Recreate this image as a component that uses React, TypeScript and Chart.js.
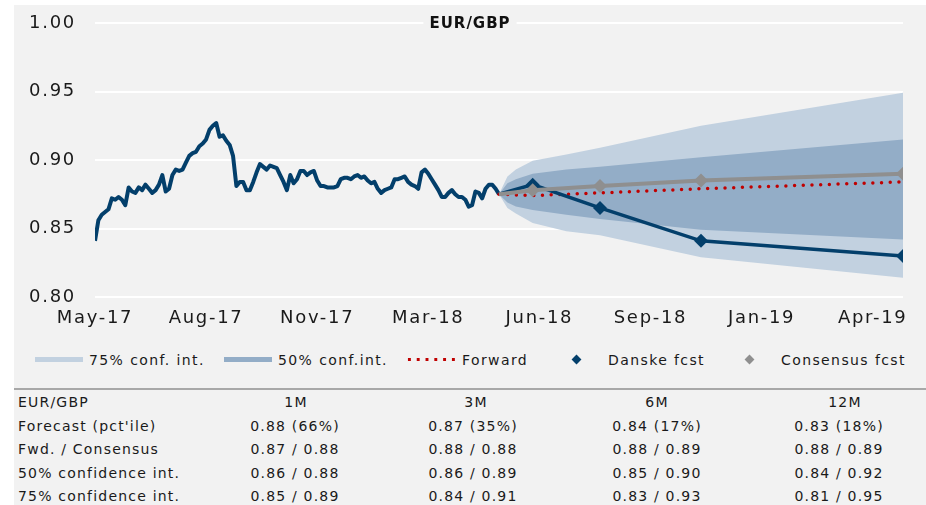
import React, { useEffect, useRef } from 'react';
import { Chart, registerables } from 'chart.js';

Chart.register(...registerables);

const FONT = "'DejaVu Sans', sans-serif";
const NAVY = '#033f6b';
const GRAY = '#8f8f8f';
const RED = '#c00000';
const LIGHT = '#c2d1e0';
const DARK = '#93adc7';
const PANEL = '#f2f2f2';
const TEXT = '#1a1a1a';

// ---- data ----
const chartTitle = 'EUR/GBP';
const historyStartMonth = 0;
const historyStepMonths = 0.1;
const historyValues = [
  0.841, 0.856, 0.860, 0.862, 0.864, 0.872, 0.871, 0.873, 0.871, 0.867,
  0.880, 0.877, 0.876, 0.880, 0.878, 0.882, 0.879, 0.876, 0.878, 0.882,
  0.889, 0.877, 0.879, 0.889, 0.893, 0.892, 0.893, 0.898, 0.903, 0.905,
  0.906, 0.910, 0.912, 0.915, 0.922, 0.925, 0.927, 0.917, 0.918, 0.914,
  0.911, 0.903, 0.881, 0.884, 0.884, 0.878, 0.878, 0.884, 0.891, 0.897,
  0.895, 0.893, 0.896, 0.895, 0.894, 0.889, 0.884, 0.878, 0.889, 0.883,
  0.886, 0.892, 0.892, 0.889, 0.891, 0.892, 0.885, 0.881, 0.881, 0.880,
  0.880, 0.880, 0.881, 0.886, 0.887, 0.887, 0.886, 0.888, 0.889, 0.887,
  0.888, 0.885, 0.883, 0.884, 0.879, 0.876, 0.878, 0.879, 0.880, 0.886,
  0.886, 0.887, 0.888, 0.884, 0.882, 0.881, 0.879, 0.891, 0.893, 0.890,
  0.886, 0.882, 0.878, 0.873, 0.873, 0.876, 0.878, 0.875, 0.873, 0.873,
  0.871, 0.866, 0.867, 0.877, 0.876, 0.872, 0.879, 0.882, 0.882, 0.879,
  0.875,
];

const forecastMonths = [12, 13, 15, 18, 24];
const danskeValues = [0.875, 0.882, 0.865, 0.841, 0.830];
const consensusValues = [0.875, 0.878, 0.881, 0.885, 0.890];
const forwardValues = [0.875, 0.874, 0.876, 0.879, 0.884];

const fanMonths = [12, 12.25, 12.5, 13, 14, 15, 18, 24];
const upper75 = [0.875, 0.888, 0.893, 0.8995, 0.904, 0.909, 0.925, 0.949];
const lower75 = [0.875, 0.865, 0.861, 0.854, 0.848, 0.845, 0.829, 0.814];
const upper50 = [0.875, 0.883, 0.886, 0.890, 0.893, 0.895, 0.902, 0.915];
const lower50 = [0.875, 0.869, 0.866, 0.8635, 0.860, 0.857, 0.849, 0.842];

const tickMonths = [0, 3.3, 6.6, 9.9, 13.2, 16.5, 19.8, 23.1];
const tickLabels = ['May-17', 'Aug-17', 'Nov-17', 'Mar-18', 'Jun-18', 'Sep-18', 'Jan-19', 'Apr-19'];
const yTicks = [0.8, 0.85, 0.9, 0.95, 1.0];

const tableHeader = ['EUR/GBP', '1M', '3M', '6M', '12M'];
const tableRows = [
  ["Forecast (pct'ile)", '0.88 (66%)', '0.87 (35%)', '0.84 (17%)', '0.83 (18%)'],
  ['Fwd. / Consensus', '0.87 / 0.88', '0.88 / 0.88', '0.88 / 0.89', '0.88 / 0.89'],
  ['50% confidence int.', '0.86 / 0.88', '0.86 / 0.89', '0.85 / 0.90', '0.84 / 0.92'],
  ['75% confidence int.', '0.85 / 0.89', '0.84 / 0.91', '0.83 / 0.93', '0.81 / 0.95'],
];

// layout (pixels)
const headerCenters = [296, 476, 657, 845];
const valueCenters = [295, 473, 657, 839];
const rowTops = [392, 415.5, 439, 462.5, 486];

const pts = (xs: number[], ys: number[]) => xs.map((x, i) => ({ x, y: ys[i] }));
const historyMonths = historyValues.map((_, i) => historyStartMonth + i * historyStepMonths);

const spacingPlugin = {
  id: 'spacing',
  beforeUpdate(chart: any) { chart.ctx.letterSpacing = '1.7px'; },
  beforeDraw(chart: any) { chart.ctx.letterSpacing = '1.7px'; },
};

const titlePlugin = {
  id: 'boxTitle',
  afterDraw(chart: any) {
    const ctx = chart.ctx;
    ctx.save();
    ctx.font = `bold 15px ${FONT}`;
    ctx.letterSpacing = '1px';
    const w = ctx.measureText(chartTitle).width;
    const cx = chart.width / 2;
    const cy = chart.chartArea.top + 1;
    ctx.fillStyle = PANEL;
    ctx.fillRect(cx - w / 2 - 6, cy - 10, w + 12, 20);
    ctx.fillStyle = '#111';
    ctx.textAlign = 'center';
    ctx.textBaseline = 'middle';
    ctx.fillText(chartTitle, cx, cy);
    ctx.restore();
  },
};

function ChartCanvas() {
  const ref = useRef<HTMLCanvasElement>(null);
  useEffect(() => {
    if (!ref.current) return;
    const chart = new Chart(ref.current, {
      type: 'line',
      data: {
        datasets: [
          { data: pts(fanMonths, upper75), fill: '+1', backgroundColor: LIGHT, borderWidth: 0, pointRadius: 0, order: 7 } as any,
          { data: pts(fanMonths, lower75), fill: false, borderWidth: 0, pointRadius: 0, order: 7 },
          { data: pts(fanMonths, upper50), fill: '+1', backgroundColor: DARK, borderWidth: 0, pointRadius: 0, order: 6 },
          { data: pts(fanMonths, lower50), fill: false, borderWidth: 0, pointRadius: 0, order: 6 },
          { data: pts(historyMonths, historyValues), borderColor: NAVY, borderWidth: 4, pointRadius: 0, borderJoinStyle: 'round', order: 5 },
          { data: pts(forecastMonths, forwardValues), borderColor: RED, borderWidth: 3.5, borderDash: [0, 8.7], borderCapStyle: 'round', pointRadius: 0, order: 4 },
          { data: pts(forecastMonths, danskeValues), borderColor: NAVY, borderWidth: 3.5, pointStyle: 'rectRot', pointRadius: [0, 7, 7, 7, 7], backgroundColor: NAVY, pointBorderWidth: 0, order: 3 },
          { data: pts(forecastMonths, consensusValues), borderColor: GRAY, borderWidth: 4, pointStyle: 'rectRot', pointRadius: [0, 7, 7, 7, 7], backgroundColor: GRAY, pointBorderWidth: 0, order: 2 },
        ],
      },
      options: {
        responsive: false,
        animation: false,
        events: [],
        layout: { padding: { top: 18, right: 23, left: 0, bottom: 0 } },
        plugins: { legend: { display: false }, tooltip: { enabled: false }, title: { display: false } },
        scales: {
          x: {
            type: 'linear',
            min: 0,
            max: 24,
            grid: { display: false, drawTicks: false },
            border: { display: false },
            afterBuildTicks: (s: any) => { s.ticks = tickMonths.map((v) => ({ value: v })); },
            afterFit: (s: any) => { s.height = 43; s.paddingLeft = 0; s.paddingRight = 0; },
            ticks: {
              autoSkip: false,
              maxRotation: 0,
              padding: 11,
              color: TEXT,
              font: { family: FONT, size: 18 },
              callback: (_v: any, i: number) => tickLabels[i],
            },
          },
          y: {
            min: 0.8,
            max: 1.0,
            grid: { color: '#ffffff', lineWidth: 2, drawTicks: false },
            border: { display: false },
            afterBuildTicks: (s: any) => { s.ticks = yTicks.map((v) => ({ value: v })); },
            afterFit: (s: any) => { s.width = 81; s.paddingTop = 0; s.paddingBottom = 0; },
            ticks: {
              padding: 19,
              color: TEXT,
              font: { family: FONT, size: 18 },
              callback: (v: any) => Number(v).toFixed(2),
            },
          },
        },
      },
      plugins: [spacingPlugin, titlePlugin],
    });
    return () => chart.destroy();
  }, []);
  return <canvas ref={ref} width={912} height={335} style={{ position: 'absolute', left: 14, top: 5 }} />;
}

const legendText: React.CSSProperties = {
  position: 'absolute', top: 350, height: 20, lineHeight: '20px', fontSize: 14, letterSpacing: '1.4px', whiteSpace: 'nowrap',
};
const cellText: React.CSSProperties = {
  position: 'absolute', height: 20, lineHeight: '20px', fontSize: 14, letterSpacing: '1.2px', whiteSpace: 'nowrap',
};

export default function App() {
  return (
    <div style={{ position: 'fixed', left: 0, top: 0, width: 926, height: 505, background: '#fff', fontFamily: FONT, color: TEXT, overflow: 'hidden' }}>
      <div style={{ position: 'absolute', left: 14, top: 5, width: 912, height: 500, background: PANEL }} />
      <ChartCanvas />
      {/* legend */}
      <div style={{ position: 'absolute', left: 35, top: 357, width: 48, height: 5, background: LIGHT }} />
      <div style={{ ...legendText, left: 89 }}>75% conf. int.</div>
      <div style={{ position: 'absolute', left: 224, top: 357, width: 48, height: 5, background: DARK }} />
      <div style={{ ...legendText, left: 278 }}>50% conf.int.</div>
      <div style={{ position: 'absolute', left: 405, top: 357, width: 53, height: 5, backgroundImage: `radial-gradient(circle, ${RED} 1.4px, transparent 1.9px)`, backgroundSize: '8.8px 5px', backgroundRepeat: 'repeat-x' }} />
      <div style={{ ...legendText, left: 462 }}>Forward</div>
      <div style={{ position: 'absolute', left: 573, top: 355.5, width: 7, height: 7, background: NAVY, transform: 'rotate(45deg)' }} />
      <div style={{ ...legendText, left: 608 }}>Danske fcst</div>
      <div style={{ position: 'absolute', left: 745.5, top: 355.5, width: 7, height: 7, background: GRAY, transform: 'rotate(45deg)' }} />
      <div style={{ ...legendText, left: 781 }}>Consensus fcst</div>
      {/* separator */}
      <div style={{ position: 'absolute', left: 14, top: 388, width: 912, height: 2, background: '#a8a8a8' }} />
      {/* table */}
      <div style={{ ...cellText, left: 18, top: rowTops[0] }}>{tableHeader[0]}</div>
      {tableHeader.slice(1).map((h, j) => (
        <div key={'h' + j} style={{ ...cellText, left: headerCenters[j] - 60, width: 120, textAlign: 'center', top: rowTops[0] }}>{h}</div>
      ))}
      {tableRows.map((row, r) => (
        <React.Fragment key={'r' + r}>
          <div style={{ ...cellText, left: 18, top: rowTops[r + 1] }}>{row[0]}</div>
          {row.slice(1).map((c, j) => (
            <div key={j} style={{ ...cellText, left: valueCenters[j] - 60, width: 120, textAlign: 'center', top: rowTops[r + 1] }}>{c}</div>
          ))}
        </React.Fragment>
      ))}
    </div>
  );
}
